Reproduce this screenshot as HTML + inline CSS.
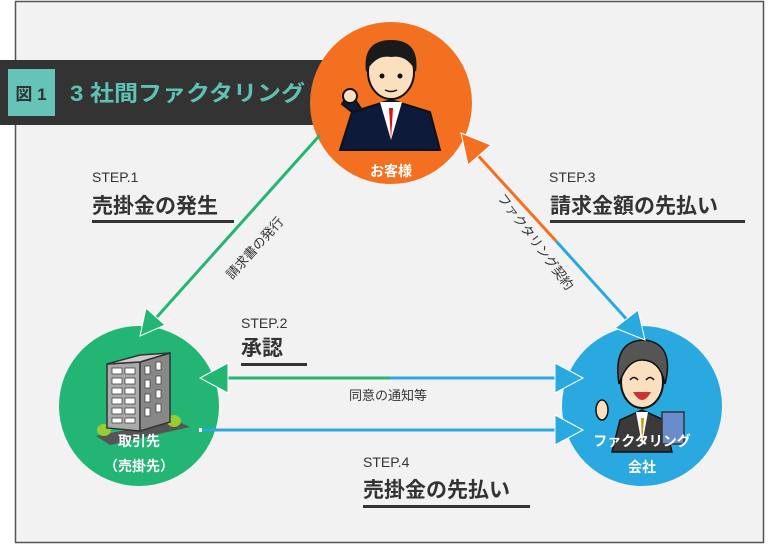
<!DOCTYPE html>
<html><head><meta charset="utf-8"><style>
body{margin:0;width:768px;height:545px;background:#fff;overflow:hidden;font-family:"Liberation Sans","Noto Sans CJK JP",sans-serif;}
</style></head><body>
<svg width="768" height="545" viewBox="0 0 768 545" xmlns="http://www.w3.org/2000/svg" style="position:absolute;left:0;top:0" font-family="Liberation Sans, Noto Sans CJK JP, sans-serif">
<rect x="15.5" y="1.5" width="748" height="541" fill="#f2f2f2" stroke="#555" stroke-width="1.5"/>
<!-- title bar -->
<rect x="0" y="60" width="330" height="65" fill="#333"/>
<rect x="8" y="69" width="47" height="47" fill="#65c3b8"/>
<text x="31" y="100" font-size="17" font-weight="bold" fill="#333" text-anchor="middle">図 1</text>
<text x="70" y="101" font-size="22" font-weight="bold" fill="#5fc0b4" textLength="235" lengthAdjust="spacingAndGlyphs">3 社間ファクタリング</text>
<!-- circles -->
<circle cx="391" cy="103" r="81" fill="#f37021"/>
<circle cx="139" cy="406" r="80" fill="#22b573"/>
<circle cx="642" cy="406" r="80" fill="#29a9e0"/>
<!-- customer figure -->
<g>
<path d="M340 150 L352 112 L391 100 L430 112 L440 150 Z" fill="#0e1a3a" stroke="#111" stroke-width="2"/>
<path d="M380 102 L391 140 L402 102 Z" fill="#fff"/>
<path d="M389 108 L391 140 L393 108 Z" fill="#d11"/>
<ellipse cx="391" cy="72" rx="23" ry="27" fill="#fbe0c0" stroke="#111" stroke-width="2"/>
<path d="M366 72 Q362 40 391 40 Q420 40 416 72 Q407 54 391 57 Q376 54 366 72Z" fill="#1a1a1a"/>
<circle cx="382" cy="76" r="2.5" fill="#111"/><circle cx="400" cy="76" r="2.5" fill="#111"/>
<path d="M385 90 Q391 93 397 90" stroke="#111" fill="none" stroke-width="1.5"/>
<path d="M352 112 L342 104 L350 92 L362 110Z" fill="#0e1a3a" stroke="#111" stroke-width="2"/>
<circle cx="350" cy="96" r="7" fill="#fbe0c0" stroke="#111" stroke-width="2"/>
</g>
<text x="391" y="176" font-size="14" font-weight="bold" fill="#fff" text-anchor="middle">お客様</text>
<!-- building -->
<g>
<polygon points="96,436 175,420 190,427 110,445" fill="#555"/>
<ellipse cx="104" cy="430" rx="7" ry="6" fill="#9c3"/>
<ellipse cx="174" cy="421" rx="7" ry="6" fill="#9c3"/>
<polygon points="107,364 140,362 140,431 107,428" fill="#aaa" stroke="#333" stroke-width="1.5"/>
<polygon points="140,362 170,353 170,422 140,431" fill="#888" stroke="#333" stroke-width="1.5"/>
<polygon points="107,364 140,362 170,353 140,355" fill="#ccc" stroke="#333" stroke-width="1.5"/>
<g fill="#fff" stroke="#444" stroke-width="0.8">
<rect x="112" y="368" width="10" height="6"/><rect x="125" y="368" width="10" height="6"/>
<rect x="112" y="378" width="10" height="6"/><rect x="125" y="378" width="10" height="6"/>
<rect x="112" y="388" width="10" height="6"/><rect x="125" y="388" width="10" height="6"/>
<rect x="112" y="398" width="10" height="6"/><rect x="125" y="398" width="10" height="6"/>
<rect x="112" y="408" width="10" height="6"/><rect x="125" y="408" width="10" height="6"/>
<rect x="112" y="418" width="10" height="5"/><rect x="125" y="418" width="10" height="5"/>
<rect x="145" y="366" width="5" height="8"/><rect x="156" y="362" width="5" height="8"/>
<rect x="145" y="380" width="5" height="8"/><rect x="156" y="376" width="5" height="8"/>
<rect x="145" y="394" width="5" height="8"/><rect x="156" y="390" width="5" height="8"/>
<rect x="145" y="408" width="5" height="8"/><rect x="156" y="404" width="5" height="8"/>
</g>
</g>
<text x="139" y="446" font-size="14" font-weight="bold" fill="#fff" text-anchor="middle">取引先</text>
<text x="139" y="471" font-size="14" font-weight="bold" fill="#fff" text-anchor="middle">（売掛先）</text>
<!-- factoring person -->
<g>
<path d="M612 452 L620 420 L642 410 L664 420 L672 452Z" fill="#3a3a3a" stroke="#111" stroke-width="1.5"/>
<path d="M636 412 L642 445 L648 412Z" fill="#fff"/><path d="M641 418 L642 445 L644 418Z" fill="#c90"/>
<ellipse cx="642" cy="382" rx="21" ry="26" fill="#fbe0c0" stroke="#111" stroke-width="2"/>
<path d="M619 384 Q612 340 645 340 Q675 344 665 384 Q660 360 642 360 Q627 360 619 384Z" fill="#555" stroke="#111" stroke-width="1.5"/>
<path d="M630 380 Q634 375 638 380 M646 380 Q650 375 654 380" stroke="#111" fill="none" stroke-width="1.5"/>
<path d="M633 392 Q642 408 651 392Z" fill="#c33"/>
<rect x="662" y="412" width="22" height="32" fill="#6b8ccc" stroke="#333" stroke-width="1.5"/>
<ellipse cx="602" cy="410" rx="6" ry="10" fill="#fbe0c0" stroke="#111" stroke-width="1.5"/>
</g>
<text x="642" y="446" font-size="14" font-weight="bold" fill="#fff" text-anchor="middle">ファクタリング</text>
<text x="642" y="472" font-size="14" font-weight="bold" fill="#fff" text-anchor="middle">会社</text>
<!-- arrows -->
<line x1="320" y1="135" x2="156" y2="318" stroke="#22b573" stroke-width="3"/>
<polygon points="140,336 146,308 165,325" fill="#22b573" stroke="#fff" stroke-width="1"/>
<line x1="473" y1="150" x2="556" y2="241" stroke="#f37021" stroke-width="3"/>
<line x1="556" y1="241" x2="630" y2="323" stroke="#29a9e0" stroke-width="3"/>
<polygon points="461,133 491,145 468,165" fill="#f37021" stroke="#fff" stroke-width="1"/>
<polygon points="645,340 615,328 638,310" fill="#29a9e0" stroke="#fff" stroke-width="1"/>
<line x1="220" y1="378" x2="390" y2="378" stroke="#22b573" stroke-width="3"/>
<line x1="390" y1="378" x2="565" y2="378" stroke="#29a9e0" stroke-width="3"/>
<polygon points="200,378 228,363 228,393" fill="#22b573" stroke="#fff" stroke-width="1"/>
<polygon points="583,378 555,363 555,393" fill="#29a9e0" stroke="#fff" stroke-width="1"/>
<line x1="201" y1="430" x2="565" y2="430" stroke="#29a9e0" stroke-width="3"/>
<rect x="199" y="428" width="3" height="4" fill="#fff"/>
<polygon points="583,430 555,415 555,445" fill="#29a9e0" stroke="#fff" stroke-width="1"/>
<!-- diagonal labels -->
<text transform="translate(232,280) rotate(-48)" font-size="13" fill="#333">請求書の発行</text>
<text transform="translate(497,198) rotate(53)" font-size="13" fill="#333">ファクタリング契約</text>
<text x="388" y="400" font-size="13" fill="#333" text-anchor="middle">同意の通知等</text>
<!-- steps -->
<g fill="#333">
<text x="92" y="182" font-size="14">STEP.1</text>
<text x="92" y="213" font-size="21" font-weight="bold">売掛金の発生</text>
<rect x="92" y="220" width="142" height="3"/>
<text x="549" y="182" font-size="14">STEP.3</text>
<text x="550" y="213" font-size="21" font-weight="bold">請求金額の先払い</text>
<rect x="550" y="220" width="195" height="3"/>
<text x="241" y="328" font-size="14">STEP.2</text>
<text x="241" y="355" font-size="21" font-weight="bold">承認</text>
<rect x="241" y="363" width="66" height="3"/>
<text x="363" y="467" font-size="14">STEP.4</text>
<text x="363" y="497" font-size="21" font-weight="bold">売掛金の先払い</text>
<rect x="363" y="505" width="167" height="3"/>
</g>
</svg>
</body></html>
